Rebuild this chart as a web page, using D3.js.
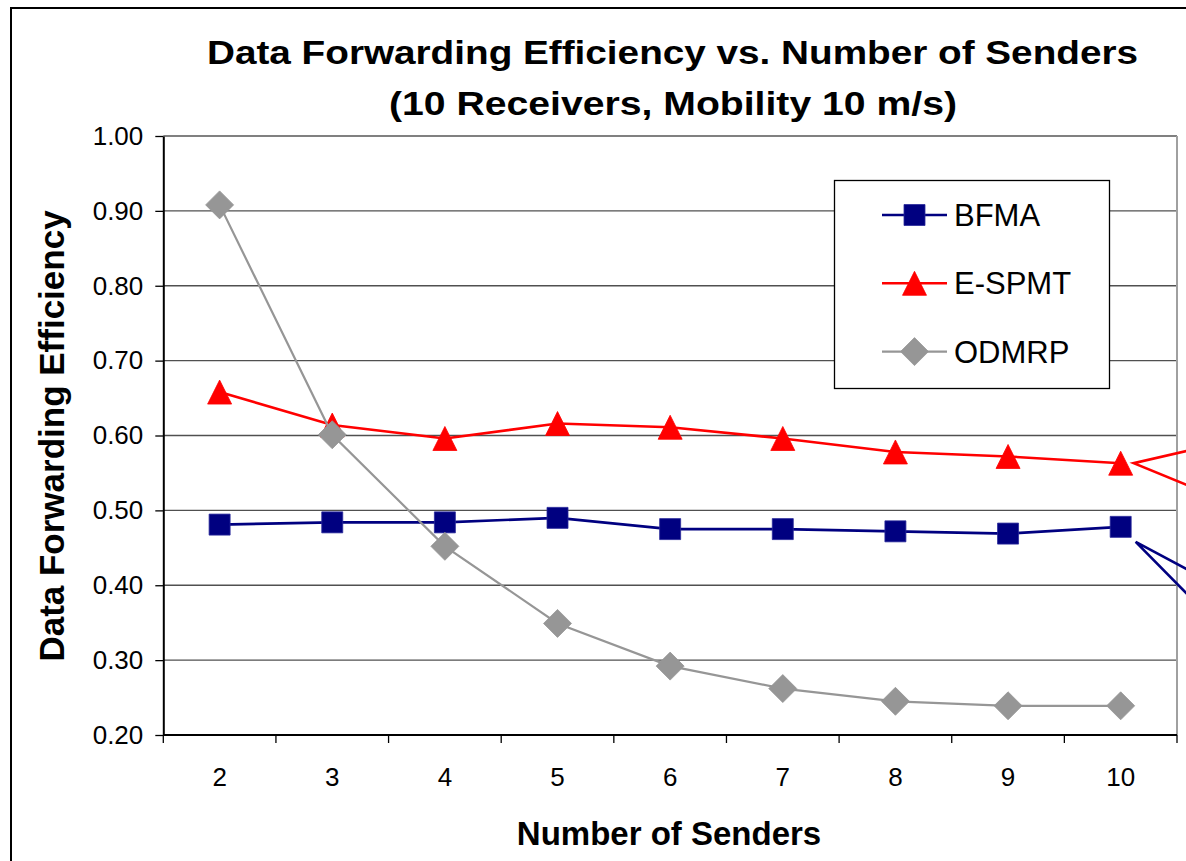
<!DOCTYPE html>
<html>
<head>
<meta charset="utf-8">
<script src="https://cdn.jsdelivr.net/npm/d3@7"></script>
<style>
	html, body { margin: 0; padding: 0; background: #fff; }
	svg { display: block; font-family: "Liberation Sans", Arial, sans-serif; }
</style>
</head>
<body>
<div id="chart"></div>
<script>
// values
let senders = ["2", "3", "4", "5", "6", "7", "8", "9", "10"];
let bfma = [0.481, 0.484, 0.484, 0.490, 0.475, 0.475, 0.472, 0.469, 0.478];
let espmt = [0.658, 0.614, 0.596, 0.616, 0.611, 0.596, 0.578, 0.572, 0.563];
let odmrp = [0.908, 0.601, 0.452, 0.349, 0.292, 0.262, 0.245, 0.239, 0.239];
let yTicks = [0.20, 0.30, 0.40, 0.50, 0.60, 0.70, 0.80, 0.90, 1.00];

let series = [
	{ name: "BFMA", values: bfma, color: "#000080", marker: "square" },
	{ name: "E-SPMT", values: espmt, color: "#ff0000", marker: "triangle" },
	{ name: "ODMRP", values: odmrp, color: "#969696", marker: "diamond" }
];

let W = 1186, H = 861;
let plot = { left: 163.3, right: 1177, top: 136, bottom: 735 };

let svg = d3.select("#chart").append("svg")
	.attr("width", W)
	.attr("height", H);

svg.append("rect").attr("width", W).attr("height", H).attr("fill", "#fff");

// outer chart frame, runs off the right and bottom edge
svg.append("rect")
	.attr("x", 11).attr("y", 8)
	.attr("width", W + 20).attr("height", H + 20)
	.attr("fill", "none")
	.attr("stroke", "#000")
	.attr("stroke-width", 2);

let x = d3.scaleBand().domain(senders).range([plot.left, plot.right]).padding(0);
let y = d3.scaleLinear().domain([0.2, 1.0]).range([plot.bottom, plot.top]);
let cx = d => x(d) + x.bandwidth() / 2;

// gridlines
svg.append("g")
	.selectAll("line")
	.data(yTicks.slice(1, -1))
	.join("line")
	.attr("x1", plot.left).attr("x2", plot.right)
	.attr("y1", d => y(d)).attr("y2", d => y(d))
	.attr("stroke", "#505050")
	.attr("stroke-width", 1.3);

// top and right edges of the plot area
svg.append("line")
	.attr("x1", plot.left).attr("x2", plot.right)
	.attr("y1", y(1.0)).attr("y2", y(1.0))
	.attr("stroke", "#808080").attr("stroke-width", 2);
svg.append("line")
	.attr("x1", plot.right).attr("x2", plot.right)
	.attr("y1", plot.top).attr("y2", plot.bottom)
	.attr("stroke", "#a0a0a0").attr("stroke-width", 2);

// y axis
let yAxis = svg.append("g")
	.attr("transform", `translate(${plot.left},0)`)
	.call(d3.axisLeft(y).tickValues(yTicks).tickFormat(d3.format(".2f")).tickSize(8).tickPadding(12).tickSizeOuter(0));
yAxis.select(".domain").attr("stroke", "#000").attr("stroke-width", 2);
yAxis.selectAll(".tick line").attr("stroke", "#000").attr("stroke-width", 1.3);
yAxis.selectAll(".tick text")
	.attr("font-size", 26)
	.attr("font-family", "Liberation Sans, Arial, sans-serif")
	.attr("fill", "#000");

// x axis: ticks sit between the categories
let xAxis = svg.append("g")
	.attr("transform", `translate(0,${plot.bottom})`);
xAxis.append("line")
	.attr("x1", plot.left).attr("x2", plot.right)
	.attr("stroke", "#000").attr("stroke-width", 2);
xAxis.selectAll(".bound")
	.data(senders.concat(["end"]))
	.join("line")
	.attr("class", "bound")
	.attr("x1", (d, i) => plot.left + i * x.bandwidth())
	.attr("x2", (d, i) => plot.left + i * x.bandwidth())
	.attr("y1", 0).attr("y2", 8)
	.attr("stroke", "#000").attr("stroke-width", 1.3);
xAxis.selectAll(".lbl")
	.data(senders)
	.join("text")
	.attr("class", "lbl")
	.attr("x", d => cx(d))
	.attr("y", 51)
	.attr("text-anchor", "middle")
	.attr("font-size", 26)
	.text(d => d);

// markers
function markerPath(kind) {
	if (kind === "square") return "M-10.5,-10.5H10.5V10.5H-10.5Z";
	if (kind === "triangle") return "M0,-12L12,12H-12Z";
	return "M0,-14L14,0L0,14L-14,0Z";
}

let line = d3.line().x(d => cx(d.s)).y(d => y(d.v));

for (let s of series) {
	let pts = s.values.map((v, i) => ({ s: senders[i], v: v }));
	let g = svg.append("g");
	g.append("path")
		.attr("d", line(pts))
		.attr("fill", "none")
		.attr("stroke", s.color)
		.attr("stroke-width", s.marker === "diamond" ? 2.2 : 2.6);
	g.selectAll("path.mk")
		.data(pts)
		.join("path")
		.attr("class", "mk")
		.attr("d", markerPath(s.marker))
		.attr("transform", d => `translate(${cx(d.s)},${y(d.v)})`)
		.attr("fill", s.color)
		.attr("stroke", s.marker === "square" ? "#2a2a9a" : s.color)
		.attr("stroke-width", 0.8);
}

// callout pointers hanging off the last points
let last = senders.length - 1;
svg.append("path")
	.attr("d", `M1190,${y(espmt[last]) - 13}L${cx(senders[last]) + 13},${y(espmt[last])}L1190,${y(espmt[last]) + 23}`)
	.attr("fill", "none").attr("stroke", "#ff0000").attr("stroke-width", 2.6);
svg.append("path")
	.attr("d", `M1190,${y(bfma[last]) + 44}L${cx(senders[last]) + 15},${y(bfma[last]) + 15}L1190,${y(bfma[last]) + 70}`)
	.attr("fill", "none").attr("stroke", "#000080").attr("stroke-width", 2.6);

// legend
let lg = svg.append("g");
lg.append("rect")
	.attr("x", 834.5).attr("y", 180.5)
	.attr("width", 275).attr("height", 208)
	.attr("fill", "#fff")
	.attr("stroke", "#000")
	.attr("stroke-width", 1.3);
let rows = lg.selectAll("g.row")
	.data(series)
	.join("g")
	.attr("class", "row")
	.attr("transform", (d, i) => `translate(0,${215 + i * 68.3})`);
rows.append("line")
	.attr("x1", 882).attr("x2", 947)
	.attr("stroke", d => d.color)
	.attr("stroke-width", d => d.marker === "diamond" ? 2.2 : 2.6);
rows.append("path")
	.attr("d", d => markerPath(d.marker))
	.attr("transform", "translate(914.5,0)")
	.attr("fill", d => d.color)
	.attr("stroke", d => d.marker === "square" ? "#2a2a9a" : d.color)
	.attr("stroke-width", 0.8);
rows.append("text")
	.attr("x", 954)
	.attr("y", 11)
	.attr("font-size", 31)
	.text(d => d.name);

// titles
svg.append("text")
	.attr("x", 672.5).attr("y", 64)
	.attr("text-anchor", "middle")
	.attr("font-size", 33).attr("font-weight", "bold")
	.attr("textLength", 931).attr("lengthAdjust", "spacingAndGlyphs")
	.text("Data Forwarding Efficiency vs. Number of Senders");
svg.append("text")
	.attr("x", 673).attr("y", 115)
	.attr("text-anchor", "middle")
	.attr("font-size", 33).attr("font-weight", "bold")
	.attr("textLength", 568).attr("lengthAdjust", "spacingAndGlyphs")
	.text("(10 Receivers, Mobility 10 m/s)");

svg.append("text")
	.attr("x", 669).attr("y", 845)
	.attr("text-anchor", "middle")
	.attr("font-size", 33).attr("font-weight", "bold")
	.text("Number of Senders");

svg.append("text")
	.attr("transform", "translate(64,436) rotate(-90)")
	.attr("text-anchor", "middle")
	.attr("font-size", 35).attr("font-weight", "bold")
	.text("Data Forwarding Efficiency");
</script>
</body>
</html>
